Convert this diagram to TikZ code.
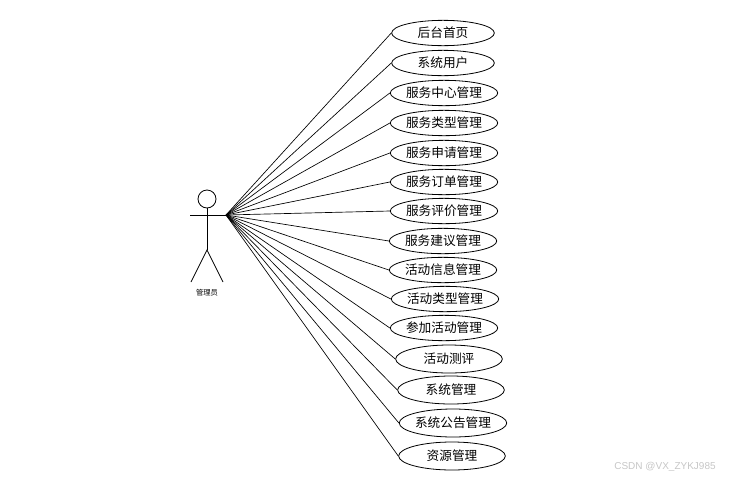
\documentclass[tikz,border=0pt]{standalone}
\usepackage{fontspec}
\usepackage{tikz}
\usetikzlibrary{shapes.geometric}
\newfontfamily\cjk{Noto Sans CJK SC}
\setsansfont{Liberation Sans}

\tikzset{
  usecase/.style={draw, ellipse, inner sep=0pt, minimum width=77pt, minimum height=19pt, line width=0.6pt, font=\cjk\fontsize{9.5}{11}\selectfont},
  usecasewide/.style={usecase, minimum width=80pt, minimum height=21pt},
  link/.style={line width=0.5pt}
}

\begin{document}
\begin{tikzpicture}[x=0.75pt, y=-0.75pt]
	\useasboundingbox (0,0) rectangle (739,479);
	
	\draw[line width=0.6pt] (207,199) circle[radius=6.75pt];
	\draw[line width=0.6pt] (207,208) -- (207,250);
	\draw[line width=0.6pt] (190,215) -- (226,215);
	\draw[line width=0.6pt] (191,282) -- (207,250) -- (223,282);
	\node[font=\cjk\fontsize{5.5}{6}\selectfont] (actor) at (207,293) {管理员};
	\coordinate (hub) at (226,215);
	
	\node[usecase] (u1) at (443,33) {后台首页};
	\node[usecase] (u2) at (443,63) {系统用户};
	\node[usecase] (u3) at (444,93) {服务中心管理};
	\node[usecase] (u4) at (444,123) {服务类型管理};
	\node[usecase] (u5) at (444,153) {服务申请管理};
	\node[usecase] (u6) at (444,182) {服务订单管理};
	\node[usecase] (u7) at (444,211) {服务评价管理};
	\node[usecase] (u8) at (443,241) {服务建议管理};
	\node[usecase] (u9) at (443,270) {活动信息管理};
	\node[usecase] (u10) at (445,299) {活动类型管理};
	\node[usecase] (u11) at (444,328) {参加活动管理};
	\node[usecasewide] (u12) at (449,359) {活动测评};
	\node[usecasewide] (u13) at (451,390) {系统管理};
	\node[usecasewide] (u14) at (453,423) {系统公告管理};
	\node[usecasewide] (u15) at (452,456) {资源管理};
	
	\draw[link] (hub) -- (u1.west);
	\draw[link] (hub) -- (u2.west);
	\draw[link] (hub) -- (u3.west);
	\draw[link] (hub) -- (u4.west);
	\draw[link] (hub) -- (u5.west);
	\draw[link] (hub) -- (u6.west);
	\draw[link] (hub) -- (u7.west);
	\draw[link] (hub) -- (u8.west);
	\draw[link] (hub) -- (u9.west);
	\draw[link] (hub) -- (u10.west);
	\draw[link] (hub) -- (u11.west);
	\draw[link] (hub) -- (u12.west);
	\draw[link] (hub) -- (u13.west);
	\draw[link] (hub) -- (u14.west);
	\draw[link] (hub) -- (u15.west);
	
	\node[text=gray!45, font=\sffamily\fontsize{7.5}{9}\selectfont] (mark) at (665,467) {CSDN @VX\_ZYKJ985};
	
\end{tikzpicture}
\end{document}
